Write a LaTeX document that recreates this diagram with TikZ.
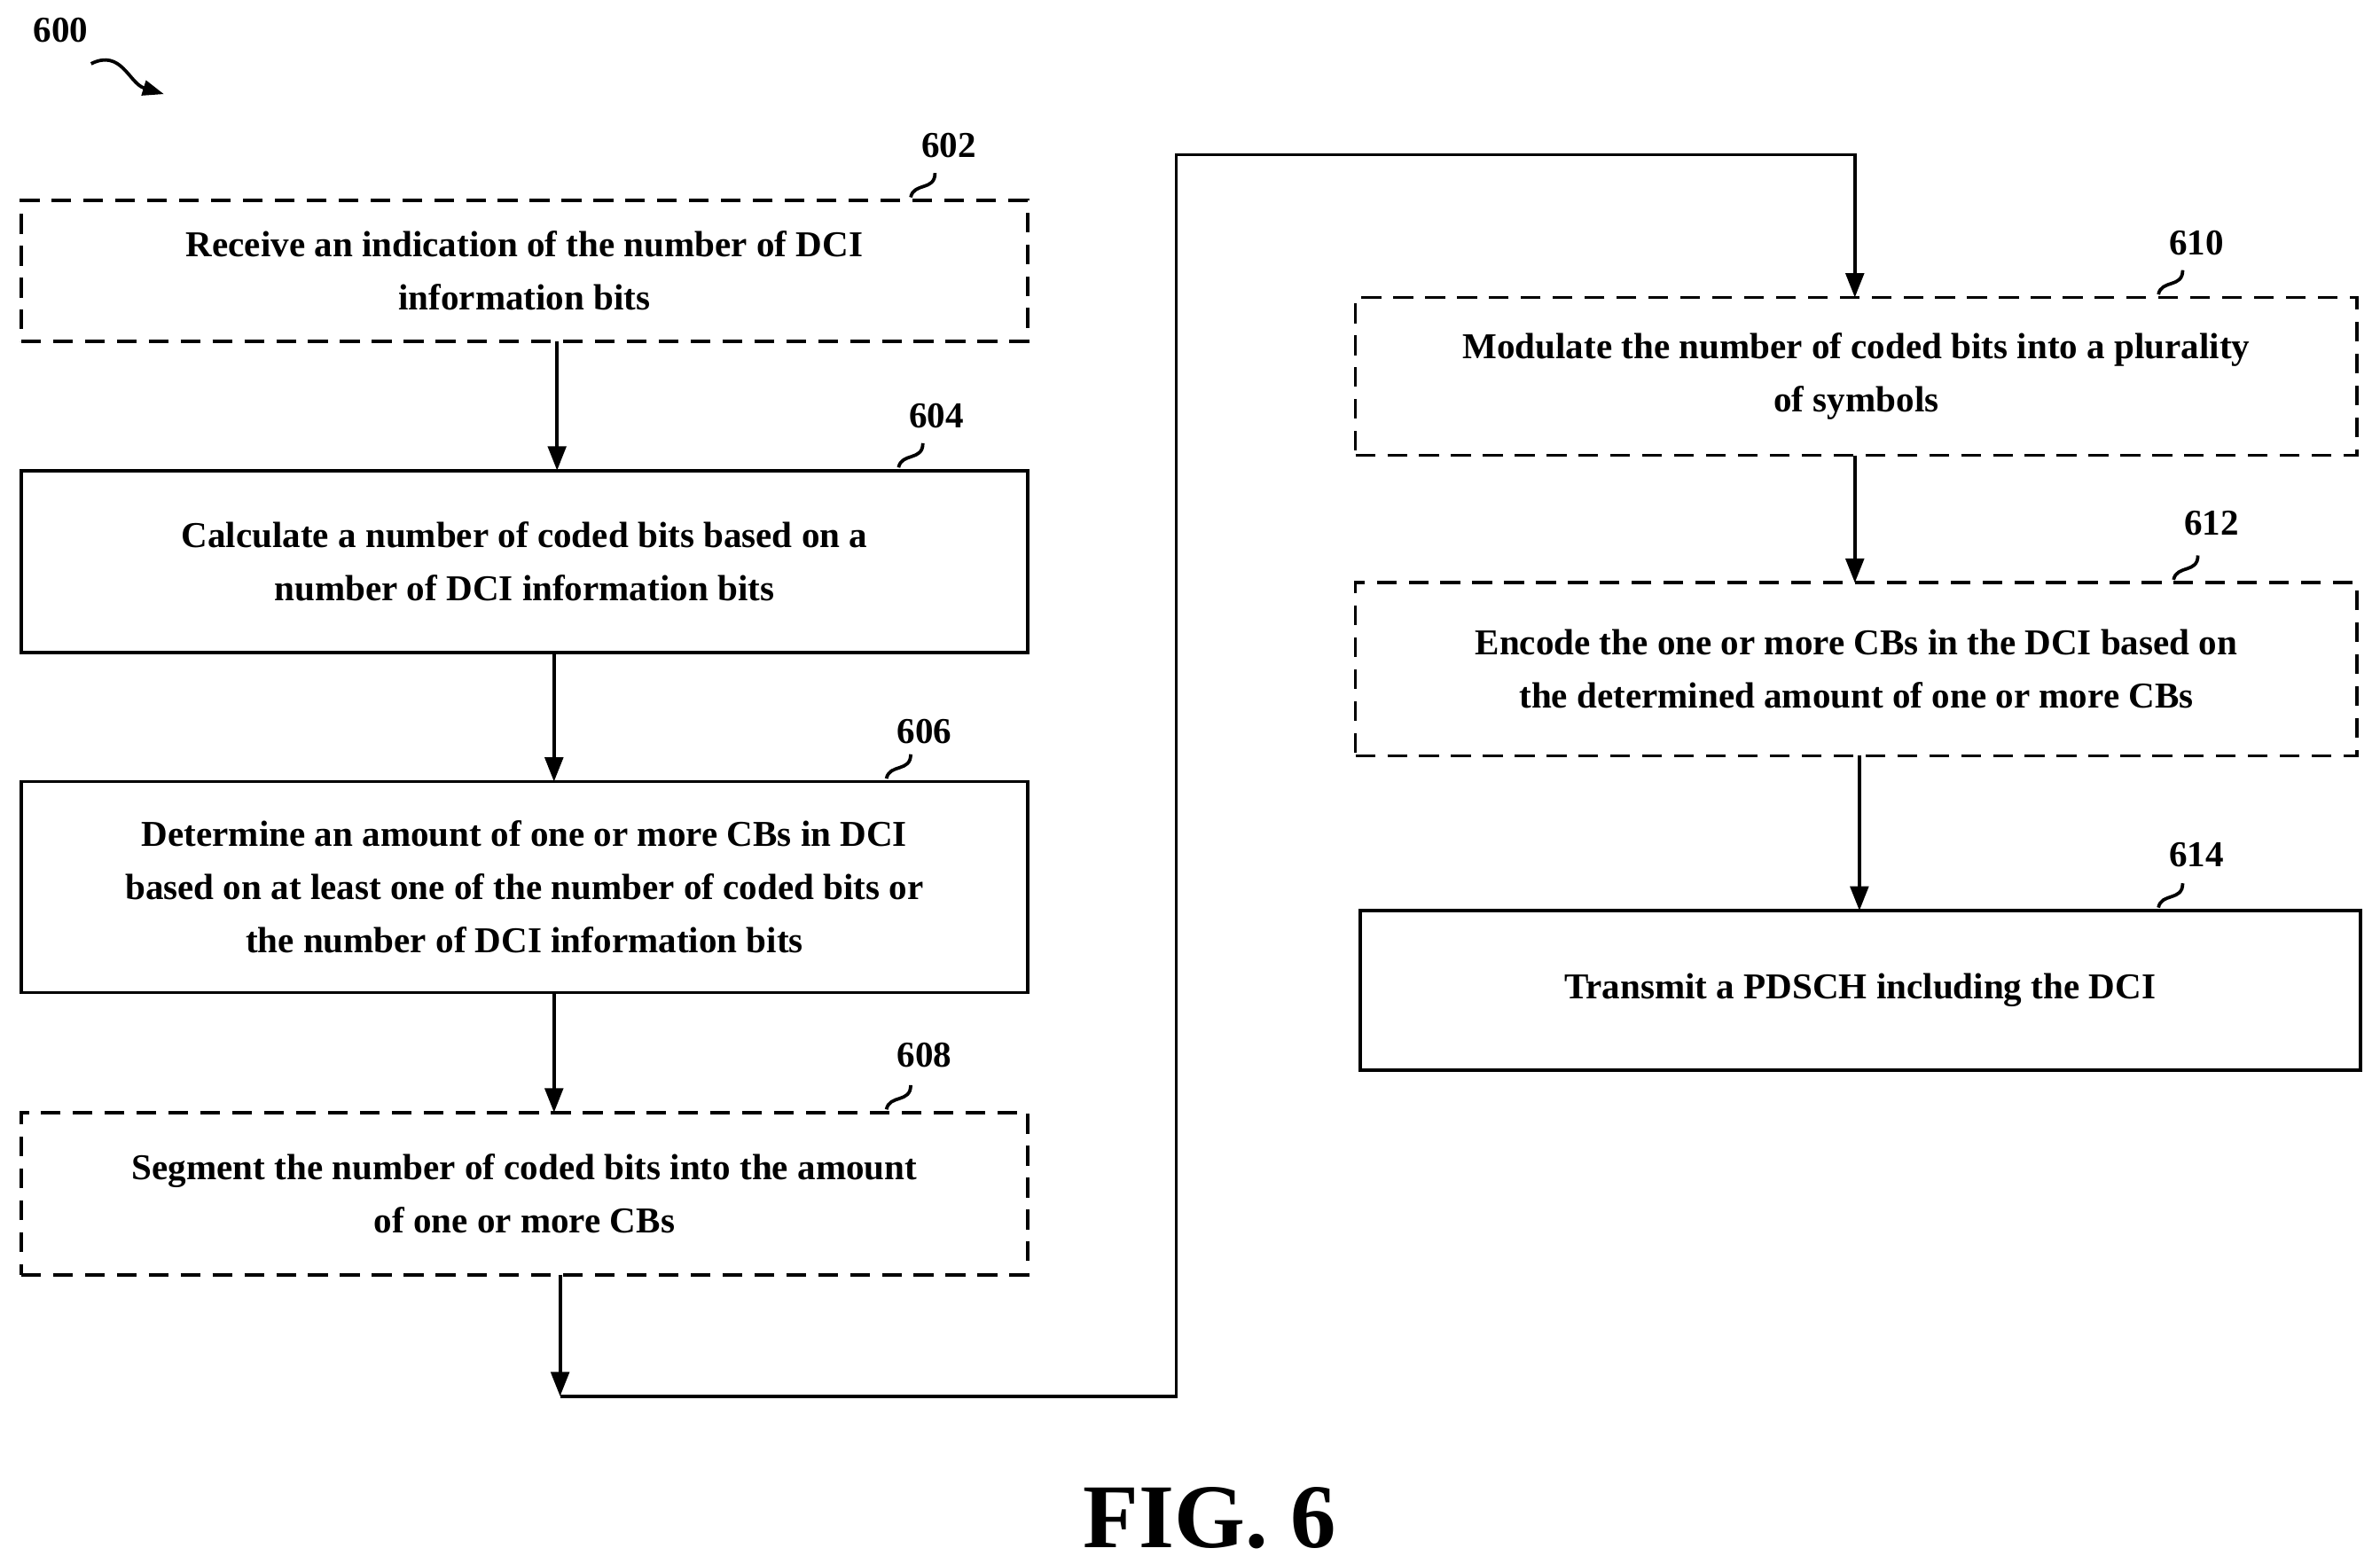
\documentclass[tikz,border=0pt]{standalone}
\usepackage{fontspec}
\setmainfont{Liberation Serif}
\usetikzlibrary{arrows.meta}
\begin{document}
\begin{tikzpicture}[x=1pt,y=-1pt,
 box/.style={draw,line width=2.2pt,minimum width=663pt,inner sep=0pt,align=center,font=\bfseries\fontsize{24}{35}\selectfont},
 dbox/.style={box,dash pattern=on 13pt off 8pt},
 lbl/.style={font=\bfseries\fontsize{24}{28}\selectfont},
 arr/.style={line width=2.2pt,-{Triangle[length=16pt,width=12pt]}},
 ln/.style={line width=2.2pt}]
\useasboundingbox (0,0) rectangle (1568,1030);
\node[lbl] (l600) at (40,20) {600};
\draw[ln,-{Triangle[length=14pt,width=10pt]}] (60,42) .. controls (80,32) and (85,55) .. (108,62);
\node[dbox,minimum height=93pt] (b602) at (345.5,178.5) {Receive an indication of the number of DCI\\information bits};
\node[box,minimum height=120pt] (b604) at (345.5,370) {Calculate a number of coded bits based on a\\number of DCI information bits};
\node[box,minimum height=139pt] (b606) at (345.5,584.5) {Determine an amount of one or more CBs in DCI\\based on at least one of the number of coded bits or\\the number of DCI information bits};
\node[dbox,minimum height=107pt] (b608) at (345.5,786.5) {Segment the number of coded bits into the amount\\of one or more CBs};
\node[dbox,minimum width=660pt,minimum height=104pt] (b610) at (1223,248) {Modulate the number of coded bits into a plurality\\of symbols};
\node[dbox,minimum width=660pt,minimum height=114pt] (b612) at (1223,441) {Encode the one or more CBs in the DCI based on\\the determined amount of one or more CBs};
\node[box,minimum width=659pt,minimum height=105pt] (b614) at (1225.5,652.5) {Transmit a PDSCH including the DCI};
\foreach \n/\x/\y/\bx/\by in {602/625/96/600/130,604/617/274/592/308,606/609/482/584/513,608/609/695/584/731,610/1447/160/1422/194,612/1457/345/1432/382,614/1447/563/1422/598}{
 \node[lbl] (l\n) at (\x,\y) {\n};
 \draw[ln] (\bx,\by) .. controls (\bx+2,\by-10) and (\bx+16,\by-4) .. (\bx+16,\by-16);
}
\coordinate (c1) at (369,920);
\draw[arr] (367,225) -- (367,310);
\draw[arr] (365,430) -- (365,515);
\draw[arr] (365,654) -- (365,733);
\draw[arr] (369,840) -- (c1);
\draw[ln] (c1) -- (775,920) -- (775,102) -- (1222,102);
\draw[arr] (1222,101) -- (1222,196);
\draw[arr] (1222,300) -- (1222,384);
\draw[arr] (1225,498) -- (1225,600);
\node[font=\bfseries\fontsize{60}{60}\selectfont] (fig) at (797,1000) {FIG. 6};
\end{tikzpicture}
\end{document}
